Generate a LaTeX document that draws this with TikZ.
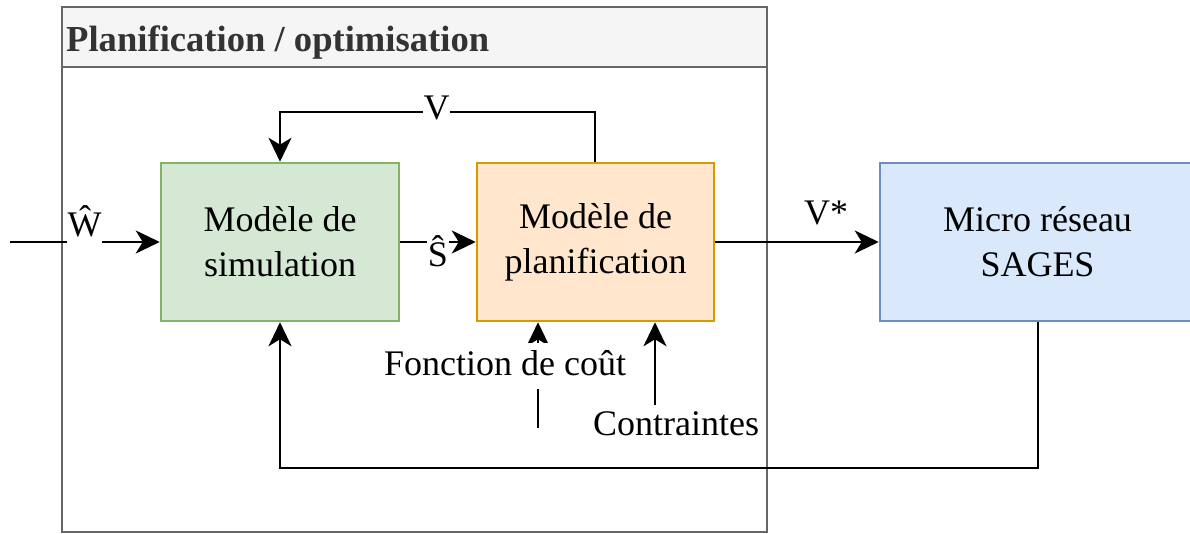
\documentclass[tikz,border=0pt]{standalone}
\usepackage{fontspec}
\setmainfont{Liberation Serif}
\usetikzlibrary{arrows.meta}
\definecolor{gfill}{HTML}{D5E8D4}
\definecolor{gline}{HTML}{82B366}
\definecolor{ofill}{HTML}{FFE6CC}
\definecolor{oline}{HTML}{D79B00}
\definecolor{bfill}{HTML}{DAE8FC}
\definecolor{bline}{HTML}{6C8EBF}
\definecolor{cline}{HTML}{666666}
\definecolor{cfill}{HTML}{F5F5F5}
\definecolor{ctext}{HTML}{333333}
\tikzset{
  big/.style={font=\fontsize{36}{45}\selectfont},
  block/.style={draw, line width=2.5pt, minimum height=158pt, inner sep=0pt, align=center, big},
  edge/.style={draw=black, line width=2.6pt, -{Stealth[length=24pt,width=23pt,inset=7pt]}},
  lbl/.style={big, fill=white, inner sep=0.5pt, anchor=base},
}
\begin{document}
\begin{tikzpicture}[x=1pt,y=-1pt]
\useasboundingbox (0,0) rectangle (1190,534);
% container
\fill[white] (62,7) rectangle (767,532);
\filldraw[fill=cfill, draw=cline, line width=2.5pt] (62,7) rectangle (767,67);
\draw[cline, line width=2.5pt] (62,7) rectangle (767,532);
\node[anchor=base west, inner sep=0pt, text=ctext, font=\fontsize{36.6}{44}\selectfont\bfseries] (title) at (66,52) {Planification / optimisation};
% blocks
\node[block, fill=gfill, draw=gline, minimum width=238pt] (sim) at (280,242) {\raisebox{-2pt}{Modèle de}\\\raisebox{-2pt}{simulation}};
\node[block, fill=ofill, draw=oline, minimum width=237pt] (plan) at (595.5,242) {\raisebox{-2pt}{Modèle de}\\\raisebox{-2pt}{planification}};
\node[block, fill=bfill, draw=bline, minimum width=315pt] (mr) at (1037.5,242) {\raisebox{-2pt}{Micro réseau}\\\raisebox{-2pt}{SAGES}};
% coordinates
\coordinate (in) at (10,242);
\coordinate (vtopR) at (595,112);
\coordinate (vtopL) at (280,112);
\coordinate (fbR) at (1038,468);
\coordinate (fbL) at (280,468);
\coordinate (fc) at (538,428);
\coordinate (ct) at (655,405);
% edges
\draw[edge] (in) -- (in -| sim.west);
\draw[edge] (sim.east |- in) -- (plan.west |- in);
\draw[edge] (vtopR |- plan.north) -- (vtopR) -- (vtopL) -- (vtopL |- sim.north);
\draw[edge] (plan.east |- in) -- (mr.west |- in);
\draw[edge] (fc) -- (fc |- plan.south);
\draw[edge] (mr.south -| fbR) -- (fbR) -- (fbL) -- (fbL |- sim.south);
\draw[edge] (ct) -- (ct |- plan.south);
% labels
\node[lbl] (w) at (84.5,237) {\strut Ŵ};
\node[lbl] (s) at (438,267) {\strut Ŝ};
\node[lbl] (v) at (436.5,120) {\strut V};
\node[big, anchor=base, inner sep=0pt] (vs) at (826,225) {V*};
\node[lbl] (fct) at (505,375) {\strut Fonction de coût};
\node[big, anchor=base, inner sep=0pt] (ctr) at (676,435) {Contraintes};
\end{tikzpicture}
\end{document}
